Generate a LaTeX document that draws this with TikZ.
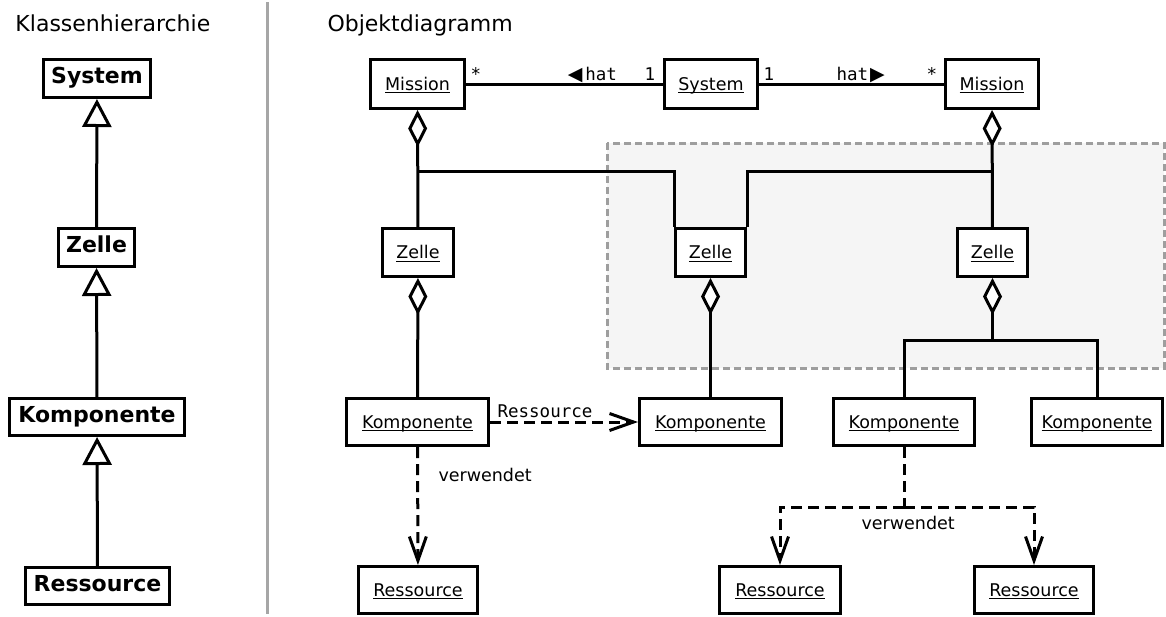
\documentclass[tikz,border=0pt]{standalone}
\usepackage{fontspec}
\setmainfont{DejaVu Sans}
\setmonofont{DejaVu Sans Mono}
\usetikzlibrary{arrows.meta}
\newcommand\objname[1]{\sbox0{#1}\rlap{\rule[-3.4pt]{\wd0}{1.1pt}}\usebox0}
\begin{document}
\begin{tikzpicture}[x=1pt,y=-1pt,line width=3pt,
  every node/.style={font=\fontsize{17.5}{20}\selectfont, inner sep=0pt},
  title/.style={font=\fontsize{22}{26}\selectfont, anchor=base west},
  cls/.style={draw, fill=white, line width=3pt, font=\fontsize{22}{26}\selectfont\bfseries, minimum height=38pt, text height=15pt, text depth=5pt},
  obj/.style={draw, fill=white, line width=3pt, minimum height=48pt, text height=15.5pt, text depth=3.5pt},
  gen/.style={-{Triangle[length=28pt,width=29pt,fill=white]}},
  agg/.style={{Diamond[length=37pt,width=19pt,fill=white]}-},
  dep/.style={dash pattern=on 11pt off 6pt,-{Straight Barb[length=24pt,width=17pt]}},
  depl/.style={dash pattern=on 11pt off 6pt},
  lbl/.style={anchor=base, font=\fontsize{17.5}{20}\selectfont\ttfamily}]
\useasboundingbox (0,0) rectangle (1166,616);
% background group
\draw[draw=black!38, fill=black!4, line width=3pt, dash pattern=on 7pt off 4pt] (607,143) rectangle (1164,368);
\draw[black!35, line width=3pt] (267,2) -- (267,614);
% titles
\node[title] (t1) at (14,31.5) {Klassenhierarchie};
\node[title] (t2) at (326,31.5) {Objektdiagramm};
% class hierarchy
\node[cls, minimum width=107pt] (Sc) at (97,78.5) {System};
\node[cls, minimum width=76pt] (Zc) at (96.5,247.5) {Zelle};
\node[cls, minimum width=175pt, minimum height=37pt] (Kc) at (97,417) {Komponente};
\node[cls, minimum width=144pt, minimum height=37pt] (Rc) at (97.5,586) {Ressource};
\draw[gen] (Zc) -- (Sc);
\draw[gen] (Kc) -- (Zc);
\draw[gen] (Rc) -- (Kc);
% objects
\node[obj, minimum width=94pt, minimum height=49pt] (M1) at (417.5,84) {\objname{Mission}};
\node[obj, minimum width=93pt, minimum height=49pt] (Sys) at (711,84) {\objname{System}};
\node[obj, minimum width=93pt, minimum height=49pt] (M2) at (992,84) {\objname{Mission}};
\node[obj, minimum width=71pt] (Z1) at (418,252.5) {\objname{Zelle}};
\node[obj, minimum width=70pt] (Z2) at (710.5,252.5) {\objname{Zelle}};
\node[obj, minimum width=70pt] (Z3) at (992.5,252.5) {\objname{Zelle}};
\node[obj, minimum width=142pt, minimum height=47pt] (K1) at (417.5,422) {\objname{Komponente}};
\node[obj, minimum width=142pt, minimum height=47pt] (K2) at (710.5,422) {\objname{Komponente}};
\node[obj, minimum width=141pt, minimum height=47pt] (K3) at (904,422) {\objname{Komponente}};
\node[obj, minimum width=131pt, minimum height=47pt] (K4) at (1097,422) {\objname{Komponente}};
\node[obj, minimum width=119pt, minimum height=47pt] (R1) at (418,590) {\objname{Ressource}};
\node[obj, minimum width=121pt, minimum height=47pt] (R2) at (780,590) {\objname{Ressource}};
\node[obj, minimum width=119pt, minimum height=47pt] (R3) at (1034,590) {\objname{Ressource}};
% associations
\draw (M1) -- (Sys);
\draw (Sys) -- (M2);
\node[lbl] (s1) at (476,80) {*};
\node[lbl, anchor=base east] (h1) at (618.5,80) {{\fontsize{19}{19}\selectfont\rmfamily ◀}\kern3pt hat};
\node[lbl] (o1) at (650,80) {1};
\node[lbl] (o2) at (769,80) {1};
\node[lbl, anchor=base west] (h2) at (835,80) {hat\kern2pt{\fontsize{19}{19}\selectfont\rmfamily ▶}};
\node[lbl] (s2) at (932,80) {*};
% aggregations
\coordinate (j1) at (417.5,171);
\coordinate (j2) at (992,171);
\coordinate (j3) at (992.5,340);
\coordinate (j3r) at (1097,340);
\draw[agg] (M1) -- (Z1);
\draw (j1) -| (Z2.north west);
\draw[agg] (M2) -- (Z3);
\draw (j2) -| (Z2.north east);
\draw[agg] (Z1) -- (K1);
\draw[agg] (Z2) -- (K2);
\draw[agg] (Z3) -- (j3);
\draw (K3.north) |- (j3r) -- (K4.north);
% dependencies
\draw[dep] (K1) -- (K2);
\node[lbl] (rl) at (545,417.5) {Ressource};
\draw[dep] (K1) -- (R1);
\node[anchor=base west] (v1) at (437,481.5) {verwendet};
\coordinate (j4) at (904,507);
\draw[depl] (K3.south) -- (j4);
\draw[dep] (j4) -| (R2.north);
\draw[dep] (j4) -| (R3.north);
\node[anchor=base west] (v2) at (860,529) {verwendet};
\end{tikzpicture}
\end{document}
